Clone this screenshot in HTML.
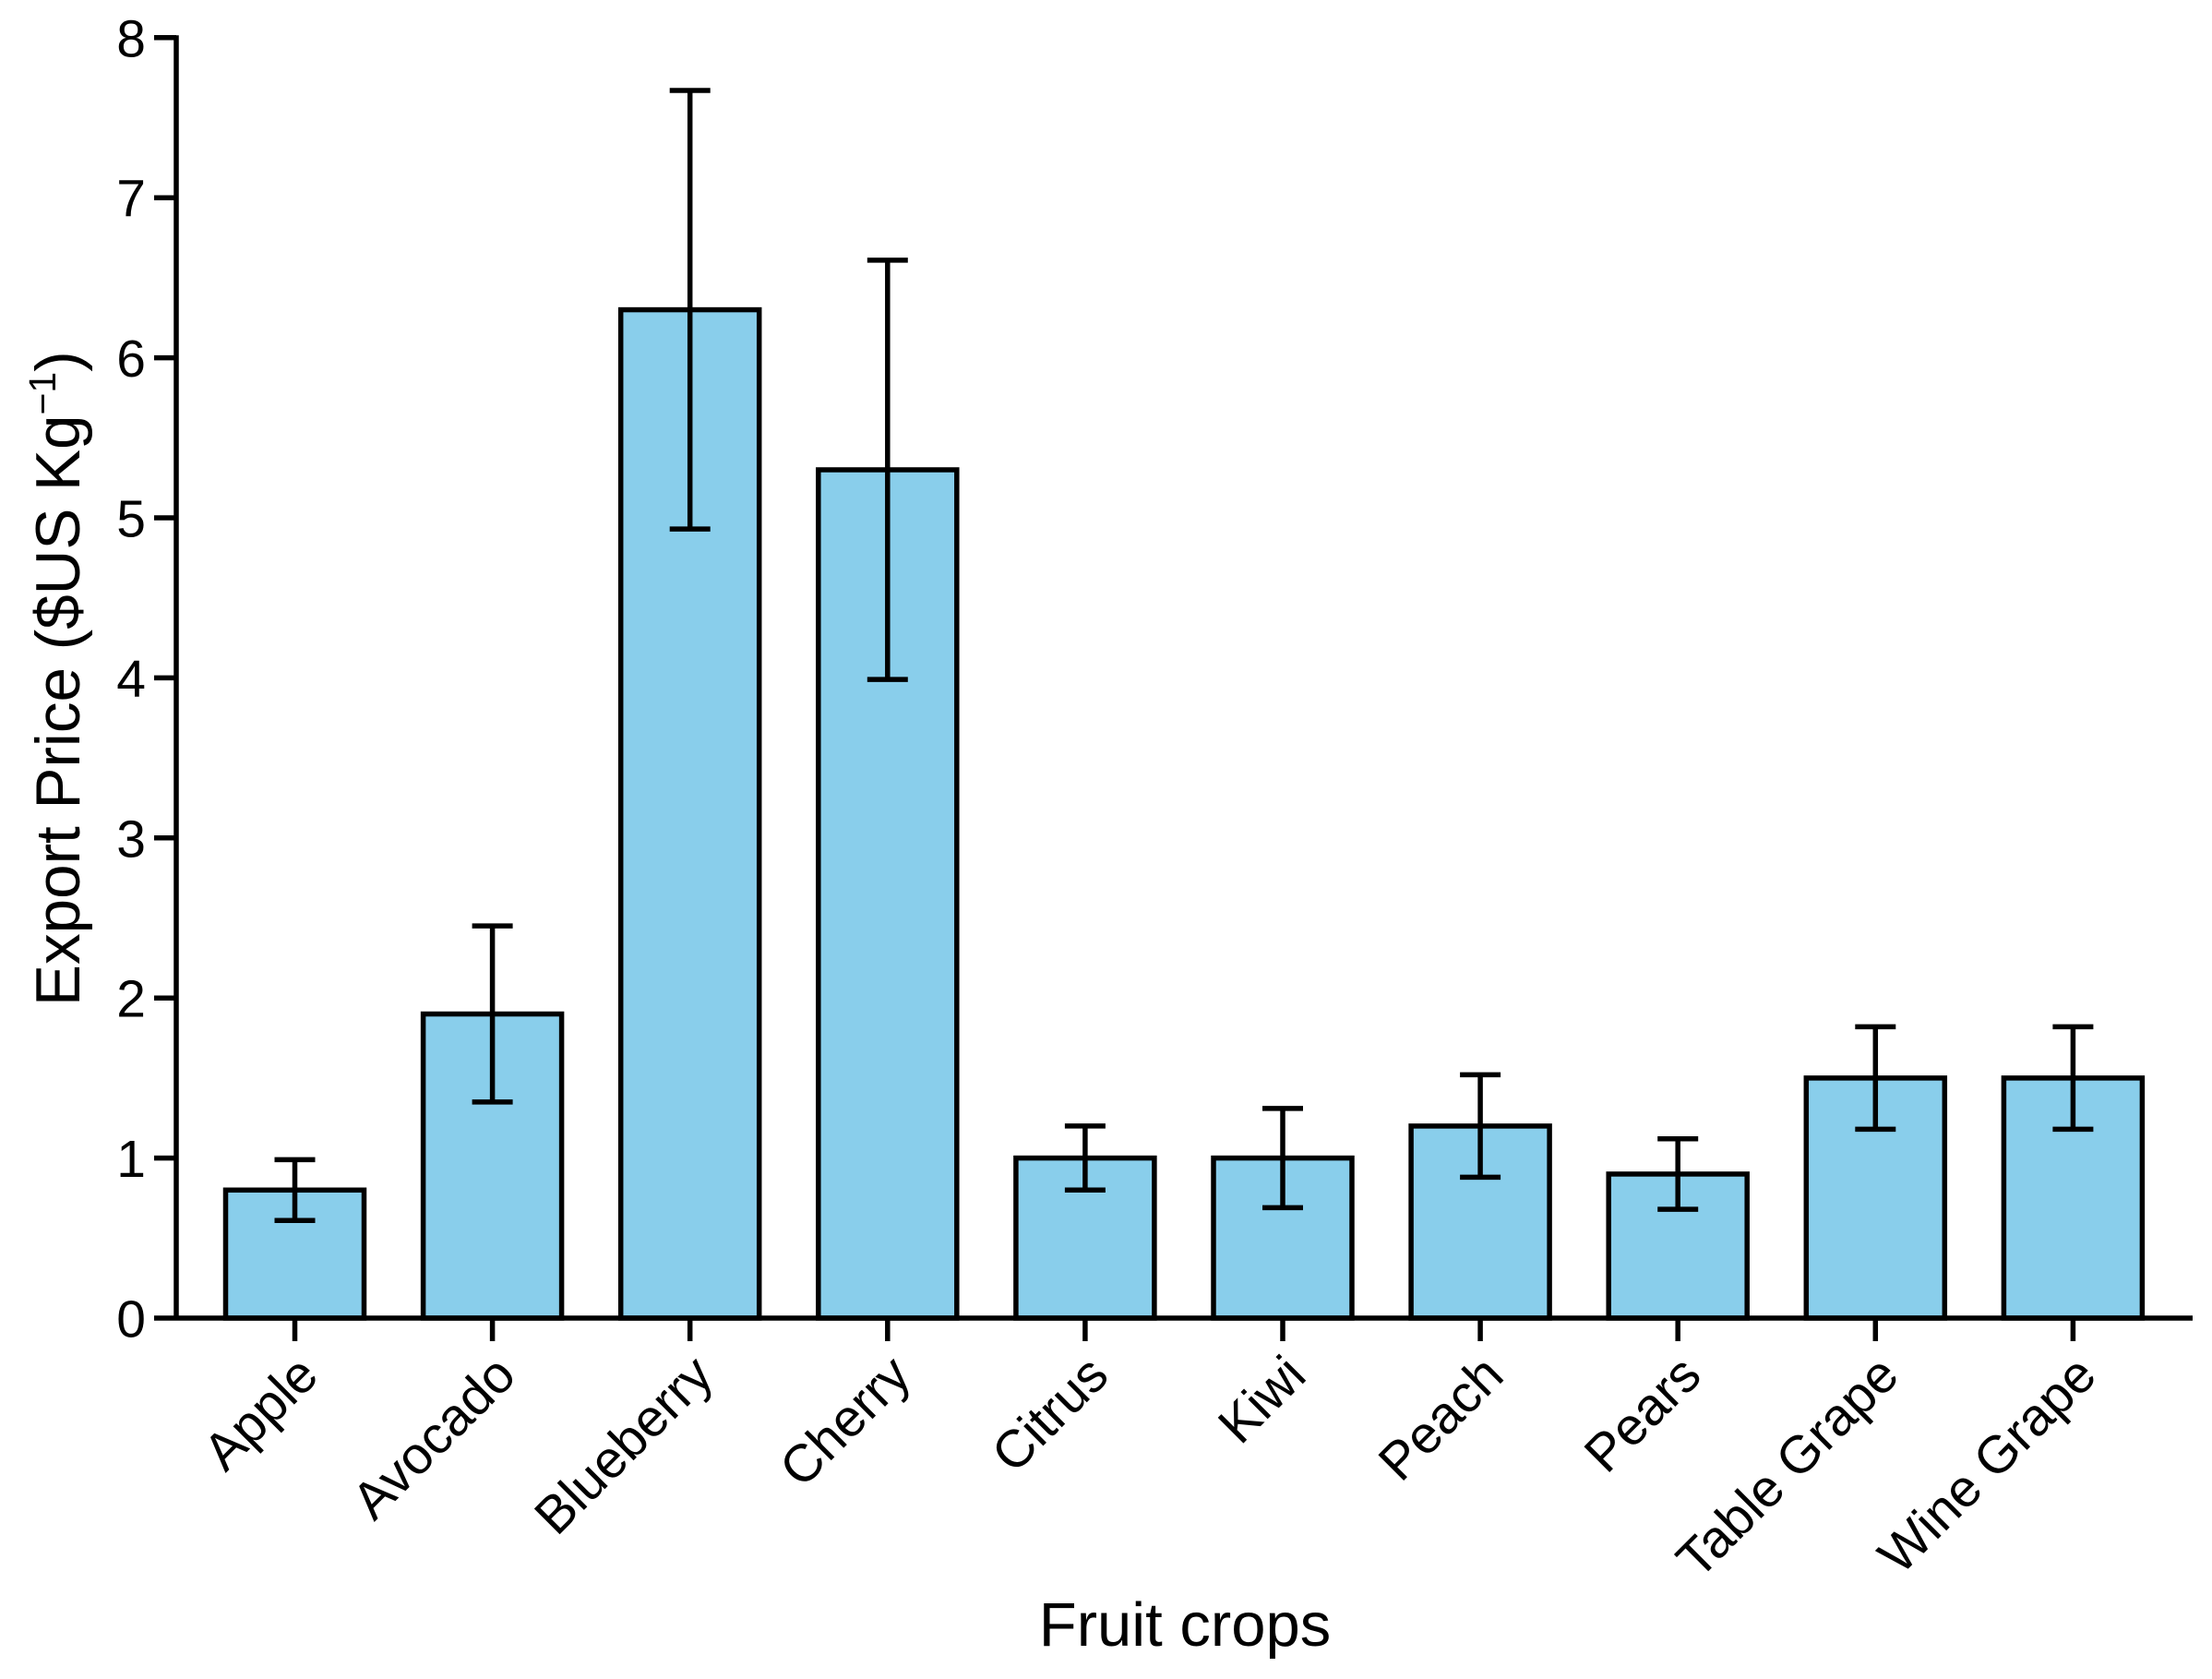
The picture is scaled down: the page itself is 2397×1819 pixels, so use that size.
<!DOCTYPE html>
<html lang="en">
<head>
<meta charset="utf-8">
<title>Export Price by Fruit Crop</title>
<style>
html,body{margin:0;padding:0;background:#fff;}
svg{display:block;}
text{font-family:"Liberation Sans",Arial,sans-serif;fill:#000;}
</style>
</head>
<body>
<svg id="chart" xmlns="http://www.w3.org/2000/svg" width="2397" height="1819" viewBox="0 0 2397 1819">
<rect x="0" y="0" width="2397" height="1819" fill="#fff"/>
<g id="bars"></g>
<g id="errors"></g>
<g id="yaxis"></g>
<g id="xaxis"></g>
<text x="1284" y="1783" font-size="67" text-anchor="middle">Fruit crops</text>
<text transform="translate(86,1090) rotate(-90)" font-size="67.4">Export Price ($US Kg<tspan font-size="41" dy="-26">−1</tspan><tspan dy="26">)</tspan></text>
</svg>
<script>
const categories = ["Apple","Avocado","Blueberry","Cherry","Citrus","Kiwi","Peach","Pears","Table Grape","Wine Grape"];
const values = [0.8,1.9,6.3,5.3,1.0,1.0,1.2,0.9,1.5,1.5];
const errLow = [0.61,1.35,4.93,3.99,0.8,0.69,0.88,0.68,1.18,1.18];
const errHigh = [0.99,2.45,7.67,6.61,1.2,1.31,1.52,1.12,1.82,1.82];
const yTicks = [0,1,2,3,4,5,6,7,8];

const NS = "http://www.w3.org/2000/svg";
const X_FIRST = 319.5, X_STEP = 214.1, BAR_W = 150, CAP_W = 44;
const Y_ZERO = 1428, Y_UNIT = 173.4, AXIS_X = 191, SW = 5.5;
function xScale(i){ return X_FIRST + i * X_STEP; }
function yScale(v){ return Y_ZERO - v * Y_UNIT; }
function mk(tag, attrs, parent){
  const el = document.createElementNS(NS, tag);
  for (const k in attrs) el.setAttribute(k, attrs[k]);
  parent.appendChild(el);
  return el;
}
const gBars = document.getElementById("bars");
const gErr = document.getElementById("errors");
const gY = document.getElementById("yaxis");
const gX = document.getElementById("xaxis");

categories.forEach(function(cat, i){
  const slug = cat.toLowerCase().replace(/\s+/g, "-");
  const cx = xScale(i);
  const top = yScale(values[i]);
  const bar = mk("rect", {x: cx - BAR_W/2, y: top, width: BAR_W, height: Y_ZERO - top, fill: "#89CEEB", stroke: "#000", "stroke-width": SW}, gBars);
  
  

  const stem = mk("line", {x1: cx, x2: cx, y1: yScale(errHigh[i]), y2: yScale(errLow[i]), stroke: "#000", "stroke-width": SW}, gErr);
  
  
  const capHi = mk("line", {x1: cx - CAP_W/2, x2: cx + CAP_W/2, y1: yScale(errHigh[i]), y2: yScale(errHigh[i]), stroke: "#000", "stroke-width": SW}, gErr);
  
  
  const capLo = mk("line", {x1: cx - CAP_W/2, x2: cx + CAP_W/2, y1: yScale(errLow[i]), y2: yScale(errLow[i]), stroke: "#000", "stroke-width": SW}, gErr);
  
  

  const tick = mk("line", {x1: cx, x2: cx, y1: Y_ZERO, y2: Y_ZERO + 25, stroke: "#000", "stroke-width": SW}, gX);
  
  
  const label = mk("text", {transform: "translate(" + (cx + 28) + ",1493) rotate(-45)", "font-size": 57, "text-anchor": "end"}, gX);
  label.textContent = cat;
  
  
});

const yLine = mk("line", {x1: AXIS_X, x2: AXIS_X, y1: yScale(8) - 2.5, y2: Y_ZERO + 2.5, stroke: "#000", "stroke-width": 5.5}, gY);


const xLine = mk("line", {x1: AXIS_X, x2: 2376, y1: Y_ZERO, y2: Y_ZERO, stroke: "#000", "stroke-width": 5.5}, gX);



yTicks.forEach(function(t){
  const y = yScale(t);
  const tk = mk("line", {x1: 167, x2: AXIS_X, y1: y, y2: y, stroke: "#000", "stroke-width": 5.5}, gY);
  
  
  const lb = mk("text", {x: 158, y: y + 20.5, "font-size": 57, "text-anchor": "end"}, gY);
  lb.textContent = t;
  
  
});
</script>
</body>
</html>
